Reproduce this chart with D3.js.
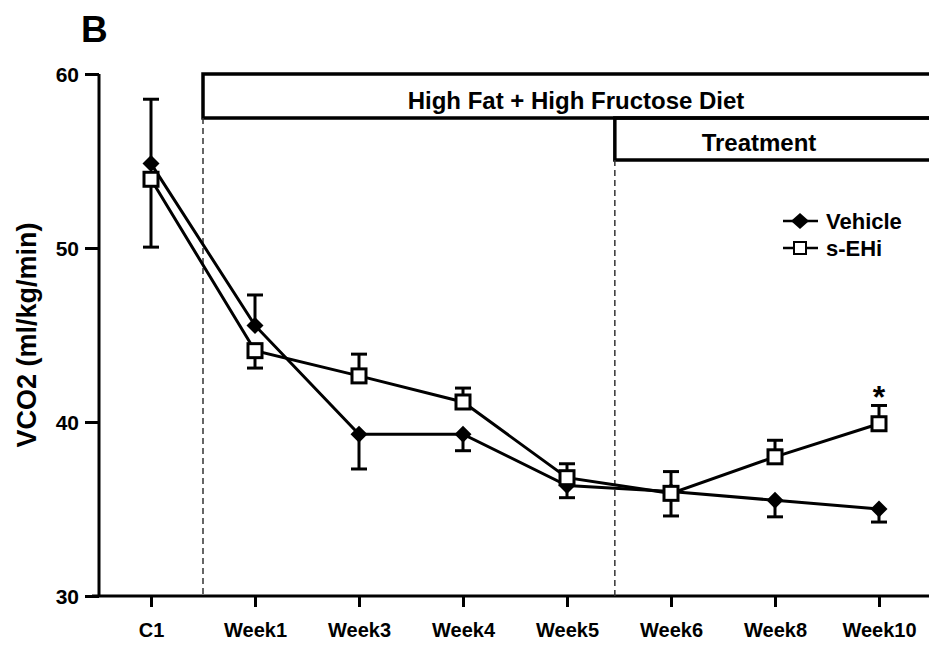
<!DOCTYPE html>
<html>
<head>
<meta charset="utf-8">
<script src="https://cdn.jsdelivr.net/npm/d3@7"></script>
<style>
  body { margin: 0; background: #fff; }
  text { font-family: "Liberation Sans", Arial, sans-serif; font-weight: bold; fill: #000; }
</style>
</head>
<body>
<div id="chart"></div>
<script>
// Time points and values
const timePoints = ["C1", "Week1", "Week3", "Week4", "Week5", "Week6", "Week8", "Week10"];
const vehicleMean = [54.85, 45.55, 39.3, 39.3, 36.35, 36.0, 35.5, 35.0];
const vehicleSem = [3.7, 1.75, 2.0, 0.95, 0.7, 1.4, 0.95, 0.75];
const vehicleErrDir = [1, 1, -1, -1, -1, -1, -1, -1];
const sehiMean = [53.95, 44.1, 42.65, 41.15, 36.8, 35.9, 38.0, 39.9];
const sehiSem = [3.9, 1.0, 1.25, 0.8, 0.8, 1.25, 0.95, 1.05];
const sehiErrDir = [-1, -1, 1, 1, 1, 1, 1, 1];
const significance = ["", "", "", "", "", "", "", "*"];
const yTicks = [30, 40, 50, 60];
const seriesNames = ["Vehicle", "s-EHi"];

const width = 929, height = 646;

const svg = d3.select("#chart")
  .append("svg")
  .attr("width", width)
  .attr("height", height);

const x = d3.scalePoint()
  .domain(timePoints)
  .range([99, 931])
  .padding(0.5);

const y = d3.scaleLinear()
  .domain([30, 60])
  .range([596, 74]);

const step = x.step();

// Axes
const yAxis = svg.append("g")
  .attr("transform", "translate(99,0)")
  .call(d3.axisLeft(y).tickValues(yTicks).tickSize(14).tickPadding(6));
yAxis.select(".domain").attr("d", `M0,${y(60)}V${y(30)}`);

const xAxis = svg.append("g")
  .attr("transform", `translate(0,${y(30)})`)
  .call(d3.axisBottom(x).tickSize(11).tickPadding(16));
xAxis.select(".domain").attr("d", "M92,0H929");

svg.selectAll(".domain, .tick line")
  .attr("stroke", "#000")
  .attr("stroke-width", 3);
yAxis.selectAll(".tick text").style("font-size", "21px").attr("dy", "0.36em");
xAxis.selectAll(".tick text").style("font-size", "20px");

// Diet / treatment boxes
const dietStart = x("C1") + step / 2;
const treatStart = x("Week5") + step * 0.46;

svg.append("rect")
  .attr("x", dietStart).attr("y", y(60))
  .attr("width", 760).attr("height", 44)
  .attr("fill", "none").attr("stroke", "#000").attr("stroke-width", 3.5);
svg.append("text")
  .attr("x", 576).attr("y", y(60) + 35)
  .attr("text-anchor", "middle")
  .style("font-size", "24px")
  .text("High Fat + High Fructose Diet");

svg.append("rect")
  .attr("x", treatStart).attr("y", y(60) + 44)
  .attr("width", 400).attr("height", 42)
  .attr("fill", "none").attr("stroke", "#000").attr("stroke-width", 3.5);
svg.append("text")
  .attr("x", 759).attr("y", y(60) + 77)
  .attr("text-anchor", "middle")
  .style("font-size", "24px")
  .text("Treatment");

// Dashed phase lines
[[dietStart, y(60) + 44], [treatStart, y(60) + 86]].forEach(([lx, top]) => {
  svg.append("line")
    .attr("x1", lx).attr("x2", lx)
    .attr("y1", top).attr("y2", y(30))
    .attr("stroke", "#333").attr("stroke-width", 1.5)
    .attr("stroke-dasharray", "6,4");
});

// Series
const vehicle = timePoints.map((t, i) => ({ t, v: vehicleMean[i], e: vehicleSem[i] * vehicleErrDir[i] }));
const sehi = timePoints.map((t, i) => ({ t, v: sehiMean[i], e: sehiSem[i] * sehiErrDir[i] }));

const line = d3.line().x(d => x(d.t)).y(d => y(d.v));

function drawErr(data) {
  const g = svg.append("g").attr("stroke", "#000").attr("stroke-width", 3);
  g.selectAll("line.v").data(data).enter().append("line")
    .attr("x1", d => x(d.t)).attr("x2", d => x(d.t))
    .attr("y1", d => y(d.v)).attr("y2", d => y(d.v + d.e));
  g.selectAll("line.c").data(data).enter().append("line")
    .attr("x1", d => x(d.t) - 8).attr("x2", d => x(d.t) + 8)
    .attr("y1", d => y(d.v + d.e)).attr("y2", d => y(d.v + d.e));
}

drawErr(vehicle);
drawErr(sehi);

svg.append("path").datum(vehicle)
  .attr("d", line).attr("fill", "none").attr("stroke", "#000").attr("stroke-width", 3);
svg.append("path").datum(sehi)
  .attr("d", line).attr("fill", "none").attr("stroke", "#000").attr("stroke-width", 3);

const diamond = "M0,-8.5L8.5,0L0,8.5L-8.5,0Z";

svg.selectAll("path.vm").data(vehicle).enter().append("path")
  .attr("d", diamond)
  .attr("transform", d => `translate(${x(d.t)},${y(d.v)})`)
  .attr("fill", "#000");

svg.selectAll("rect.sm").data(sehi).enter().append("rect")
  .attr("x", d => x(d.t) - 7).attr("y", d => y(d.v) - 7)
  .attr("width", 14).attr("height", 14)
  .attr("fill", "#fff").attr("stroke", "#000").attr("stroke-width", 3);

// Significance marks
svg.selectAll("text.sig").data(sehi.filter((d, i) => significance[i]))
  .enter().append("text")
  .attr("x", d => x(d.t)).attr("y", d => y(d.v + d.e) + 3)
  .attr("text-anchor", "middle")
  .style("font-size", "32px")
  .text((d) => significance[timePoints.indexOf(d.t)]);

// Legend
const legend = svg.append("g").attr("transform", "translate(783,221)");
seriesNames.forEach((name, i) => {
  const g = legend.append("g").attr("transform", `translate(0,${i * 27})`);
  g.append("line").attr("x1", 0).attr("x2", 35).attr("stroke", "#000").attr("stroke-width", 2.5);
  if (i === 0) {
    g.append("path").attr("d", "M0,-8L9,0L0,8L-9,0Z").attr("transform", "translate(17,0)").attr("fill", "#000");
  } else {
    g.append("rect").attr("x", 11).attr("y", -6).attr("width", 12).attr("height", 12)
      .attr("fill", "#fff").attr("stroke", "#000").attr("stroke-width", 2);
  }
  g.append("text").attr("x", 43).attr("y", 8).style("font-size", "22px").text(name);
});

// Titles
svg.append("text")
  .attr("transform", `translate(36,${(y(30) + y(60)) / 2}) rotate(-90)`)
  .attr("text-anchor", "middle")
  .style("font-size", "27px")
  .text("VCO2 (ml/kg/min)");

svg.append("text")
  .attr("x", 81).attr("y", 42)
  .style("font-size", "37px")
  .text("B");
</script>
</body>
</html>
